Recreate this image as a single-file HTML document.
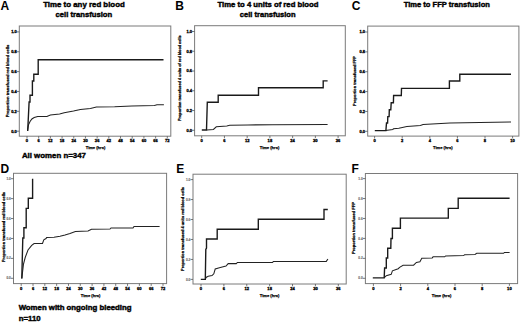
<!DOCTYPE html>
<html><head><meta charset="utf-8"><style>
html,body{margin:0;padding:0;background:#fff;}
svg{display:block;font-family:"Liberation Sans", sans-serif;}
</style></head><body>
<svg width="520" height="322" viewBox="0 0 520 322">
<rect width="520" height="322" fill="#fff"/>
<rect x="19.3" y="26" width="151.5" height="110.2" fill="none" stroke="#7a7a7a" stroke-width="1"/>
<line x1="16.8" y1="131.2" x2="19.3" y2="131.2" stroke="#555" stroke-width="0.8"/>
<text x="16.7" y="132.6" font-size="4" text-anchor="end" fill="#000" stroke="#000" stroke-width="0.3" font-weight="bold">0.0</text>
<line x1="16.8" y1="111.34" x2="19.3" y2="111.34" stroke="#555" stroke-width="0.8"/>
<text x="16.7" y="112.74" font-size="4" text-anchor="end" fill="#000" stroke="#000" stroke-width="0.3" font-weight="bold">0.2</text>
<line x1="16.8" y1="91.48" x2="19.3" y2="91.48" stroke="#555" stroke-width="0.8"/>
<text x="16.7" y="92.88" font-size="4" text-anchor="end" fill="#000" stroke="#000" stroke-width="0.3" font-weight="bold">0.4</text>
<line x1="16.8" y1="71.62" x2="19.3" y2="71.62" stroke="#555" stroke-width="0.8"/>
<text x="16.7" y="73.02" font-size="4" text-anchor="end" fill="#000" stroke="#000" stroke-width="0.3" font-weight="bold">0.6</text>
<line x1="16.8" y1="51.76" x2="19.3" y2="51.76" stroke="#555" stroke-width="0.8"/>
<text x="16.7" y="53.16" font-size="4" text-anchor="end" fill="#000" stroke="#000" stroke-width="0.3" font-weight="bold">0.8</text>
<line x1="16.8" y1="31.9" x2="19.3" y2="31.9" stroke="#555" stroke-width="0.8"/>
<text x="16.7" y="33.3" font-size="4" text-anchor="end" fill="#000" stroke="#000" stroke-width="0.3" font-weight="bold">1.0</text>
<line x1="27" y1="136.2" x2="27" y2="138.5" stroke="#555" stroke-width="0.8"/>
<text x="27" y="142.45" font-size="4.1" text-anchor="middle" fill="#000" stroke="#000" stroke-width="0.3" font-weight="bold">0</text>
<line x1="38.69" y1="136.2" x2="38.69" y2="138.5" stroke="#555" stroke-width="0.8"/>
<text x="38.69" y="142.45" font-size="4.1" text-anchor="middle" fill="#000" stroke="#000" stroke-width="0.3" font-weight="bold">6</text>
<line x1="50.38" y1="136.2" x2="50.38" y2="138.5" stroke="#555" stroke-width="0.8"/>
<text x="50.38" y="142.45" font-size="4.1" text-anchor="middle" fill="#000" stroke="#000" stroke-width="0.3" font-weight="bold">12</text>
<line x1="62.08" y1="136.2" x2="62.08" y2="138.5" stroke="#555" stroke-width="0.8"/>
<text x="62.08" y="142.45" font-size="4.1" text-anchor="middle" fill="#000" stroke="#000" stroke-width="0.3" font-weight="bold">18</text>
<line x1="73.77" y1="136.2" x2="73.77" y2="138.5" stroke="#555" stroke-width="0.8"/>
<text x="73.77" y="142.45" font-size="4.1" text-anchor="middle" fill="#000" stroke="#000" stroke-width="0.3" font-weight="bold">24</text>
<line x1="85.46" y1="136.2" x2="85.46" y2="138.5" stroke="#555" stroke-width="0.8"/>
<text x="85.46" y="142.45" font-size="4.1" text-anchor="middle" fill="#000" stroke="#000" stroke-width="0.3" font-weight="bold">30</text>
<line x1="97.15" y1="136.2" x2="97.15" y2="138.5" stroke="#555" stroke-width="0.8"/>
<text x="97.15" y="142.45" font-size="4.1" text-anchor="middle" fill="#000" stroke="#000" stroke-width="0.3" font-weight="bold">36</text>
<line x1="108.84" y1="136.2" x2="108.84" y2="138.5" stroke="#555" stroke-width="0.8"/>
<text x="108.84" y="142.45" font-size="4.1" text-anchor="middle" fill="#000" stroke="#000" stroke-width="0.3" font-weight="bold">42</text>
<line x1="120.53" y1="136.2" x2="120.53" y2="138.5" stroke="#555" stroke-width="0.8"/>
<text x="120.53" y="142.45" font-size="4.1" text-anchor="middle" fill="#000" stroke="#000" stroke-width="0.3" font-weight="bold">48</text>
<line x1="132.23" y1="136.2" x2="132.23" y2="138.5" stroke="#555" stroke-width="0.8"/>
<text x="132.23" y="142.45" font-size="4.1" text-anchor="middle" fill="#000" stroke="#000" stroke-width="0.3" font-weight="bold">54</text>
<line x1="143.92" y1="136.2" x2="143.92" y2="138.5" stroke="#555" stroke-width="0.8"/>
<text x="143.92" y="142.45" font-size="4.1" text-anchor="middle" fill="#000" stroke="#000" stroke-width="0.3" font-weight="bold">60</text>
<line x1="155.61" y1="136.2" x2="155.61" y2="138.5" stroke="#555" stroke-width="0.8"/>
<text x="155.61" y="142.45" font-size="4.1" text-anchor="middle" fill="#000" stroke="#000" stroke-width="0.3" font-weight="bold">66</text>
<line x1="167.3" y1="136.2" x2="167.3" y2="138.5" stroke="#555" stroke-width="0.8"/>
<text x="167.3" y="142.45" font-size="4.1" text-anchor="middle" fill="#000" stroke="#000" stroke-width="0.3" font-weight="bold">72</text>
<text transform="translate(8.5,81) rotate(-90)" font-size="4" text-anchor="middle" fill="#000" stroke="#000" stroke-width="0.25" font-weight="bold" textLength="72.5" lengthAdjust="spacingAndGlyphs">Proportion transfused red blood cells</text>
<text x="95.5" y="149.2" font-size="4.3" text-anchor="middle" fill="#000" stroke="#000" stroke-width="0.25" font-weight="bold" textLength="19.5" lengthAdjust="spacingAndGlyphs">Time (hrs)</text>
<text x="0.6" y="9.6" font-size="12" fill="#000" font-weight="bold">A</text>
<path d="M27.5,130.6 L28.5,124.8 L30.2,121.3 L31.9,119 L34.2,117.5 L37.7,116.5 L46.9,116.4 L50.4,115 L59.6,114.1 L64.2,112.7 L73.5,111 L80.4,109.5 L90.4,108.5 L96.4,107.1 L114.6,106.8 L131.9,106.1 L154.4,105.4 L157,104.7 L163.9,104.7" fill="none" stroke="#222" stroke-width="1.05"/>
<path d="M27.7,131 L29.1,102 L30,102 L30,95.3 L32.4,95.3 L32.4,81 L33.8,81 L33.8,74.3 L38.2,74.3 L38.2,59.8 L163.5,59.8" fill="none" stroke="#1a1a1a" stroke-width="1.38"/>
<rect x="194.6" y="25.7" width="150.7" height="110.1" fill="none" stroke="#7a7a7a" stroke-width="1"/>
<line x1="192.1" y1="130.3" x2="194.6" y2="130.3" stroke="#555" stroke-width="0.8"/>
<text x="192" y="131.7" font-size="4" text-anchor="end" fill="#000" stroke="#000" stroke-width="0.3" font-weight="bold">0.0</text>
<line x1="192.1" y1="110.54" x2="194.6" y2="110.54" stroke="#555" stroke-width="0.8"/>
<text x="192" y="111.94" font-size="4" text-anchor="end" fill="#000" stroke="#000" stroke-width="0.3" font-weight="bold">0.2</text>
<line x1="192.1" y1="90.78" x2="194.6" y2="90.78" stroke="#555" stroke-width="0.8"/>
<text x="192" y="92.18" font-size="4" text-anchor="end" fill="#000" stroke="#000" stroke-width="0.3" font-weight="bold">0.4</text>
<line x1="192.1" y1="71.02" x2="194.6" y2="71.02" stroke="#555" stroke-width="0.8"/>
<text x="192" y="72.42" font-size="4" text-anchor="end" fill="#000" stroke="#000" stroke-width="0.3" font-weight="bold">0.6</text>
<line x1="192.1" y1="51.26" x2="194.6" y2="51.26" stroke="#555" stroke-width="0.8"/>
<text x="192" y="52.66" font-size="4" text-anchor="end" fill="#000" stroke="#000" stroke-width="0.3" font-weight="bold">0.8</text>
<line x1="192.1" y1="31.5" x2="194.6" y2="31.5" stroke="#555" stroke-width="0.8"/>
<text x="192" y="32.9" font-size="4" text-anchor="end" fill="#000" stroke="#000" stroke-width="0.3" font-weight="bold">1.0</text>
<line x1="201.7" y1="135.8" x2="201.7" y2="138.1" stroke="#555" stroke-width="0.8"/>
<text x="201.7" y="142.05" font-size="4.1" text-anchor="middle" fill="#000" stroke="#000" stroke-width="0.3" font-weight="bold">0</text>
<line x1="224.43" y1="135.8" x2="224.43" y2="138.1" stroke="#555" stroke-width="0.8"/>
<text x="224.43" y="142.05" font-size="4.1" text-anchor="middle" fill="#000" stroke="#000" stroke-width="0.3" font-weight="bold">6</text>
<line x1="247.17" y1="135.8" x2="247.17" y2="138.1" stroke="#555" stroke-width="0.8"/>
<text x="247.17" y="142.05" font-size="4.1" text-anchor="middle" fill="#000" stroke="#000" stroke-width="0.3" font-weight="bold">12</text>
<line x1="269.9" y1="135.8" x2="269.9" y2="138.1" stroke="#555" stroke-width="0.8"/>
<text x="269.9" y="142.05" font-size="4.1" text-anchor="middle" fill="#000" stroke="#000" stroke-width="0.3" font-weight="bold">18</text>
<line x1="292.63" y1="135.8" x2="292.63" y2="138.1" stroke="#555" stroke-width="0.8"/>
<text x="292.63" y="142.05" font-size="4.1" text-anchor="middle" fill="#000" stroke="#000" stroke-width="0.3" font-weight="bold">24</text>
<line x1="315.37" y1="135.8" x2="315.37" y2="138.1" stroke="#555" stroke-width="0.8"/>
<text x="315.37" y="142.05" font-size="4.1" text-anchor="middle" fill="#000" stroke="#000" stroke-width="0.3" font-weight="bold">30</text>
<line x1="338.1" y1="135.8" x2="338.1" y2="138.1" stroke="#555" stroke-width="0.8"/>
<text x="338.1" y="142.05" font-size="4.1" text-anchor="middle" fill="#000" stroke="#000" stroke-width="0.3" font-weight="bold">36</text>
<text transform="translate(181.3,78.2) rotate(-90)" font-size="4" text-anchor="middle" fill="#000" stroke="#000" stroke-width="0.25" font-weight="bold" textLength="85.5" lengthAdjust="spacingAndGlyphs">Proportion transfused 4 units of red blood cells</text>
<text x="269.5" y="149.1" font-size="4.3" text-anchor="middle" fill="#000" stroke="#000" stroke-width="0.25" font-weight="bold" textLength="19.5" lengthAdjust="spacingAndGlyphs">Time (hrs)</text>
<text x="175.3" y="10.2" font-size="12" fill="#000" font-weight="bold">B</text>
<path d="M206.8,130 L213.4,129.4 L216.3,126.8 L226.8,125.9 L229.7,125.2 L248,124.9 L272.5,124.8 L327.6,124.4" fill="none" stroke="#222" stroke-width="1.05"/>
<path d="M201.8,130 L206.5,130 L207.3,102.3 L218.2,102.3 L218.2,95.2 L258.5,95.2 L258.5,87.7 L323.2,87.7 L323.2,80.9 L327.6,80.9" fill="none" stroke="#1a1a1a" stroke-width="1.38"/>
<rect x="367.7" y="26.1" width="151.2" height="110" fill="none" stroke="#7a7a7a" stroke-width="1"/>
<line x1="365.2" y1="131.3" x2="367.7" y2="131.3" stroke="#555" stroke-width="0.8"/>
<text x="365.1" y="132.7" font-size="4" text-anchor="end" fill="#000" stroke="#000" stroke-width="0.3" font-weight="bold">0.0</text>
<line x1="365.2" y1="111.44" x2="367.7" y2="111.44" stroke="#555" stroke-width="0.8"/>
<text x="365.1" y="112.84" font-size="4" text-anchor="end" fill="#000" stroke="#000" stroke-width="0.3" font-weight="bold">0.2</text>
<line x1="365.2" y1="91.58" x2="367.7" y2="91.58" stroke="#555" stroke-width="0.8"/>
<text x="365.1" y="92.98" font-size="4" text-anchor="end" fill="#000" stroke="#000" stroke-width="0.3" font-weight="bold">0.4</text>
<line x1="365.2" y1="71.72" x2="367.7" y2="71.72" stroke="#555" stroke-width="0.8"/>
<text x="365.1" y="73.12" font-size="4" text-anchor="end" fill="#000" stroke="#000" stroke-width="0.3" font-weight="bold">0.6</text>
<line x1="365.2" y1="51.86" x2="367.7" y2="51.86" stroke="#555" stroke-width="0.8"/>
<text x="365.1" y="53.26" font-size="4" text-anchor="end" fill="#000" stroke="#000" stroke-width="0.3" font-weight="bold">0.8</text>
<line x1="365.2" y1="32" x2="367.7" y2="32" stroke="#555" stroke-width="0.8"/>
<text x="365.1" y="33.4" font-size="4" text-anchor="end" fill="#000" stroke="#000" stroke-width="0.3" font-weight="bold">1.0</text>
<line x1="374.6" y1="136.1" x2="374.6" y2="138.4" stroke="#555" stroke-width="0.8"/>
<text x="374.6" y="142.35" font-size="4.1" text-anchor="middle" fill="#000" stroke="#000" stroke-width="0.3" font-weight="bold">0</text>
<line x1="402.2" y1="136.1" x2="402.2" y2="138.4" stroke="#555" stroke-width="0.8"/>
<text x="402.2" y="142.35" font-size="4.1" text-anchor="middle" fill="#000" stroke="#000" stroke-width="0.3" font-weight="bold">2</text>
<line x1="429.8" y1="136.1" x2="429.8" y2="138.4" stroke="#555" stroke-width="0.8"/>
<text x="429.8" y="142.35" font-size="4.1" text-anchor="middle" fill="#000" stroke="#000" stroke-width="0.3" font-weight="bold">4</text>
<line x1="457.4" y1="136.1" x2="457.4" y2="138.4" stroke="#555" stroke-width="0.8"/>
<text x="457.4" y="142.35" font-size="4.1" text-anchor="middle" fill="#000" stroke="#000" stroke-width="0.3" font-weight="bold">6</text>
<line x1="485" y1="136.1" x2="485" y2="138.4" stroke="#555" stroke-width="0.8"/>
<text x="485" y="142.35" font-size="4.1" text-anchor="middle" fill="#000" stroke="#000" stroke-width="0.3" font-weight="bold">8</text>
<line x1="512.6" y1="136.1" x2="512.6" y2="138.4" stroke="#555" stroke-width="0.8"/>
<text x="512.6" y="142.35" font-size="4.1" text-anchor="middle" fill="#000" stroke="#000" stroke-width="0.3" font-weight="bold">10</text>
<text transform="translate(356,81) rotate(-90)" font-size="4" text-anchor="middle" fill="#000" stroke="#000" stroke-width="0.25" font-weight="bold" textLength="50" lengthAdjust="spacingAndGlyphs">Proportion transfused FFP</text>
<text x="442.8" y="149.3" font-size="4.3" text-anchor="middle" fill="#000" stroke="#000" stroke-width="0.25" font-weight="bold" textLength="19.5" lengthAdjust="spacingAndGlyphs">Time (hrs)</text>
<text x="351.8" y="10" font-size="12" fill="#000" font-weight="bold">C</text>
<path d="M385.6,130.6 L392.8,129.4 L393.5,128.8 L398.8,128.2 L406.9,126.6 L420.4,125.5 L423.1,124.5 L450,123 L480,122.5 L511,121.9" fill="none" stroke="#222" stroke-width="1.05"/>
<path d="M374.8,130.6 L385.9,130.6 L386.5,123 L387.6,123 L387.8,116.6 L389.1,116.6 L389.3,109.7 L390.8,109.7 L391.2,102.8 L393.4,102.8 L393.6,95.5 L401.3,95.5 L401.5,88.4 L449.4,88.4 L449.4,81 L459.8,81 L459.8,74.2 L511,74.2" fill="none" stroke="#1a1a1a" stroke-width="1.38"/>
<rect x="13.5" y="173.3" width="153.1" height="110.3" fill="none" stroke="#7a7a7a" stroke-width="1"/>
<line x1="11" y1="278.3" x2="13.5" y2="278.3" stroke="#555" stroke-width="0.8"/>
<text x="10.9" y="279.4" font-size="3.2" text-anchor="end" fill="#777" stroke="#777" stroke-width="0.15" font-weight="bold">0.0</text>
<line x1="11" y1="258.38" x2="13.5" y2="258.38" stroke="#555" stroke-width="0.8"/>
<text x="10.9" y="259.48" font-size="3.2" text-anchor="end" fill="#777" stroke="#777" stroke-width="0.15" font-weight="bold">0.2</text>
<line x1="11" y1="238.46" x2="13.5" y2="238.46" stroke="#555" stroke-width="0.8"/>
<text x="10.9" y="239.56" font-size="3.2" text-anchor="end" fill="#777" stroke="#777" stroke-width="0.15" font-weight="bold">0.4</text>
<line x1="11" y1="218.54" x2="13.5" y2="218.54" stroke="#555" stroke-width="0.8"/>
<text x="10.9" y="219.64" font-size="3.2" text-anchor="end" fill="#777" stroke="#777" stroke-width="0.15" font-weight="bold">0.6</text>
<line x1="11" y1="198.62" x2="13.5" y2="198.62" stroke="#555" stroke-width="0.8"/>
<text x="10.9" y="199.72" font-size="3.2" text-anchor="end" fill="#777" stroke="#777" stroke-width="0.15" font-weight="bold">0.8</text>
<line x1="11" y1="178.7" x2="13.5" y2="178.7" stroke="#555" stroke-width="0.8"/>
<text x="10.9" y="179.8" font-size="3.2" text-anchor="end" fill="#777" stroke="#777" stroke-width="0.15" font-weight="bold">1.0</text>
<line x1="21.2" y1="283.6" x2="21.2" y2="285.9" stroke="#555" stroke-width="0.8"/>
<text x="21.2" y="289.85" font-size="4.1" text-anchor="middle" fill="#000" stroke="#000" stroke-width="0.3" font-weight="bold">0</text>
<line x1="33.02" y1="283.6" x2="33.02" y2="285.9" stroke="#555" stroke-width="0.8"/>
<text x="33.02" y="289.85" font-size="4.1" text-anchor="middle" fill="#000" stroke="#000" stroke-width="0.3" font-weight="bold">6</text>
<line x1="44.83" y1="283.6" x2="44.83" y2="285.9" stroke="#555" stroke-width="0.8"/>
<text x="44.83" y="289.85" font-size="4.1" text-anchor="middle" fill="#000" stroke="#000" stroke-width="0.3" font-weight="bold">12</text>
<line x1="56.65" y1="283.6" x2="56.65" y2="285.9" stroke="#555" stroke-width="0.8"/>
<text x="56.65" y="289.85" font-size="4.1" text-anchor="middle" fill="#000" stroke="#000" stroke-width="0.3" font-weight="bold">18</text>
<line x1="68.47" y1="283.6" x2="68.47" y2="285.9" stroke="#555" stroke-width="0.8"/>
<text x="68.47" y="289.85" font-size="4.1" text-anchor="middle" fill="#000" stroke="#000" stroke-width="0.3" font-weight="bold">24</text>
<line x1="80.28" y1="283.6" x2="80.28" y2="285.9" stroke="#555" stroke-width="0.8"/>
<text x="80.28" y="289.85" font-size="4.1" text-anchor="middle" fill="#000" stroke="#000" stroke-width="0.3" font-weight="bold">30</text>
<line x1="92.1" y1="283.6" x2="92.1" y2="285.9" stroke="#555" stroke-width="0.8"/>
<text x="92.1" y="289.85" font-size="4.1" text-anchor="middle" fill="#000" stroke="#000" stroke-width="0.3" font-weight="bold">36</text>
<line x1="103.92" y1="283.6" x2="103.92" y2="285.9" stroke="#555" stroke-width="0.8"/>
<text x="103.92" y="289.85" font-size="4.1" text-anchor="middle" fill="#000" stroke="#000" stroke-width="0.3" font-weight="bold">42</text>
<line x1="115.73" y1="283.6" x2="115.73" y2="285.9" stroke="#555" stroke-width="0.8"/>
<text x="115.73" y="289.85" font-size="4.1" text-anchor="middle" fill="#000" stroke="#000" stroke-width="0.3" font-weight="bold">48</text>
<line x1="127.55" y1="283.6" x2="127.55" y2="285.9" stroke="#555" stroke-width="0.8"/>
<text x="127.55" y="289.85" font-size="4.1" text-anchor="middle" fill="#000" stroke="#000" stroke-width="0.3" font-weight="bold">54</text>
<line x1="139.37" y1="283.6" x2="139.37" y2="285.9" stroke="#555" stroke-width="0.8"/>
<text x="139.37" y="289.85" font-size="4.1" text-anchor="middle" fill="#000" stroke="#000" stroke-width="0.3" font-weight="bold">60</text>
<line x1="151.18" y1="283.6" x2="151.18" y2="285.9" stroke="#555" stroke-width="0.8"/>
<text x="151.18" y="289.85" font-size="4.1" text-anchor="middle" fill="#000" stroke="#000" stroke-width="0.3" font-weight="bold">66</text>
<line x1="163" y1="283.6" x2="163" y2="285.9" stroke="#555" stroke-width="0.8"/>
<text x="163" y="289.85" font-size="4.1" text-anchor="middle" fill="#000" stroke="#000" stroke-width="0.3" font-weight="bold">72</text>
<text transform="translate(4.7,227) rotate(-90)" font-size="4" text-anchor="middle" fill="#000" stroke="#000" stroke-width="0.25" font-weight="bold" textLength="70" lengthAdjust="spacingAndGlyphs">Proportion transfused red blood cells</text>
<text x="90.6" y="296.8" font-size="4.3" text-anchor="middle" fill="#000" stroke="#000" stroke-width="0.25" font-weight="bold" textLength="19.5" lengthAdjust="spacingAndGlyphs">Time (hrs)</text>
<text x="0.6" y="173.2" font-size="12" fill="#000" font-weight="bold">D</text>
<path d="M21.8,278.5 L23.5,264 L25.2,257.5 L28,250 L31.7,245.4 L34.1,243.5 L42.5,243.5 L43.8,239.8 L46,238.5 L46.6,237.6 L54,237.3 L60,236.2 L65,235 L70,233.4 L75.4,231.5 L88,231 L91.5,229.2 L110,229 L111,228 L133,228 L134,226.5 L159.6,226.5" fill="none" stroke="#222" stroke-width="1.05"/>
<path d="M21.8,278.5 L22.8,238 L23.9,238 L23.9,227.8 L26.2,227.8 L26.2,208.4 L28.3,208.4 L28.3,198.2 L32.6,198.2 L32.6,178.7" fill="none" stroke="#1a1a1a" stroke-width="1.38"/>
<rect x="193" y="174.2" width="153.2" height="109.8" fill="none" stroke="#7a7a7a" stroke-width="1"/>
<line x1="190.5" y1="279.4" x2="193" y2="279.4" stroke="#555" stroke-width="0.8"/>
<text x="190.4" y="280.5" font-size="3.2" text-anchor="end" fill="#777" stroke="#777" stroke-width="0.15" font-weight="bold">0.0</text>
<line x1="190.5" y1="259.44" x2="193" y2="259.44" stroke="#555" stroke-width="0.8"/>
<text x="190.4" y="260.54" font-size="3.2" text-anchor="end" fill="#777" stroke="#777" stroke-width="0.15" font-weight="bold">0.2</text>
<line x1="190.5" y1="239.48" x2="193" y2="239.48" stroke="#555" stroke-width="0.8"/>
<text x="190.4" y="240.58" font-size="3.2" text-anchor="end" fill="#777" stroke="#777" stroke-width="0.15" font-weight="bold">0.4</text>
<line x1="190.5" y1="219.52" x2="193" y2="219.52" stroke="#555" stroke-width="0.8"/>
<text x="190.4" y="220.62" font-size="3.2" text-anchor="end" fill="#777" stroke="#777" stroke-width="0.15" font-weight="bold">0.6</text>
<line x1="190.5" y1="199.56" x2="193" y2="199.56" stroke="#555" stroke-width="0.8"/>
<text x="190.4" y="200.66" font-size="3.2" text-anchor="end" fill="#777" stroke="#777" stroke-width="0.15" font-weight="bold">0.8</text>
<line x1="190.5" y1="179.6" x2="193" y2="179.6" stroke="#555" stroke-width="0.8"/>
<text x="190.4" y="180.7" font-size="3.2" text-anchor="end" fill="#777" stroke="#777" stroke-width="0.15" font-weight="bold">1.0</text>
<line x1="201" y1="284" x2="201" y2="286.3" stroke="#555" stroke-width="0.8"/>
<text x="201" y="290.25" font-size="4.1" text-anchor="middle" fill="#000" stroke="#000" stroke-width="0.3" font-weight="bold">0</text>
<line x1="223.88" y1="284" x2="223.88" y2="286.3" stroke="#555" stroke-width="0.8"/>
<text x="223.88" y="290.25" font-size="4.1" text-anchor="middle" fill="#000" stroke="#000" stroke-width="0.3" font-weight="bold">6</text>
<line x1="246.77" y1="284" x2="246.77" y2="286.3" stroke="#555" stroke-width="0.8"/>
<text x="246.77" y="290.25" font-size="4.1" text-anchor="middle" fill="#000" stroke="#000" stroke-width="0.3" font-weight="bold">12</text>
<line x1="269.65" y1="284" x2="269.65" y2="286.3" stroke="#555" stroke-width="0.8"/>
<text x="269.65" y="290.25" font-size="4.1" text-anchor="middle" fill="#000" stroke="#000" stroke-width="0.3" font-weight="bold">18</text>
<line x1="292.53" y1="284" x2="292.53" y2="286.3" stroke="#555" stroke-width="0.8"/>
<text x="292.53" y="290.25" font-size="4.1" text-anchor="middle" fill="#000" stroke="#000" stroke-width="0.3" font-weight="bold">24</text>
<line x1="315.42" y1="284" x2="315.42" y2="286.3" stroke="#555" stroke-width="0.8"/>
<text x="315.42" y="290.25" font-size="4.1" text-anchor="middle" fill="#000" stroke="#000" stroke-width="0.3" font-weight="bold">30</text>
<line x1="338.3" y1="284" x2="338.3" y2="286.3" stroke="#555" stroke-width="0.8"/>
<text x="338.3" y="290.25" font-size="4.1" text-anchor="middle" fill="#000" stroke="#000" stroke-width="0.3" font-weight="bold">36</text>
<text transform="translate(183.7,229) rotate(-90)" font-size="4" text-anchor="middle" fill="#000" stroke="#000" stroke-width="0.25" font-weight="bold" textLength="84" lengthAdjust="spacingAndGlyphs">Proportion transfused 4 units red blood cells</text>
<text x="269.6" y="296.8" font-size="4.3" text-anchor="middle" fill="#000" stroke="#000" stroke-width="0.25" font-weight="bold" textLength="19.5" lengthAdjust="spacingAndGlyphs">Time (hrs)</text>
<text x="176.2" y="173.4" font-size="12" fill="#000" font-weight="bold">E</text>
<path d="M205.1,279.4 L206.4,277.2 L208.2,276.2 L212,275.6 L213.8,273.8 L215.2,269 L218.5,267.9 L222.2,266.9 L226,266 L228.2,263.6 L236.3,263.6 L237.4,262.5 L245,262.5 L272.5,262.4 L273.5,261.4 L326.3,261.4 L327.9,259" fill="none" stroke="#222" stroke-width="1.05"/>
<path d="M200.8,279.4 L205.3,279.4 L205.8,249.5 L206.5,248 L206.5,239 L217.2,239 L217.2,229.3 L258.3,229.3 L258.3,219.3 L324,219.3 L324,209.5 L327.8,209.5" fill="none" stroke="#1a1a1a" stroke-width="1.38"/>
<rect x="365.4" y="173.5" width="152.2" height="110.1" fill="none" stroke="#7a7a7a" stroke-width="1"/>
<line x1="362.9" y1="278.3" x2="365.4" y2="278.3" stroke="#555" stroke-width="0.8"/>
<text x="362.8" y="279.4" font-size="3.2" text-anchor="end" fill="#777" stroke="#777" stroke-width="0.15" font-weight="bold">0.0</text>
<line x1="362.9" y1="258.36" x2="365.4" y2="258.36" stroke="#555" stroke-width="0.8"/>
<text x="362.8" y="259.46" font-size="3.2" text-anchor="end" fill="#777" stroke="#777" stroke-width="0.15" font-weight="bold">0.2</text>
<line x1="362.9" y1="238.42" x2="365.4" y2="238.42" stroke="#555" stroke-width="0.8"/>
<text x="362.8" y="239.52" font-size="3.2" text-anchor="end" fill="#777" stroke="#777" stroke-width="0.15" font-weight="bold">0.4</text>
<line x1="362.9" y1="218.48" x2="365.4" y2="218.48" stroke="#555" stroke-width="0.8"/>
<text x="362.8" y="219.58" font-size="3.2" text-anchor="end" fill="#777" stroke="#777" stroke-width="0.15" font-weight="bold">0.6</text>
<line x1="362.9" y1="198.54" x2="365.4" y2="198.54" stroke="#555" stroke-width="0.8"/>
<text x="362.8" y="199.64" font-size="3.2" text-anchor="end" fill="#777" stroke="#777" stroke-width="0.15" font-weight="bold">0.8</text>
<line x1="362.9" y1="178.6" x2="365.4" y2="178.6" stroke="#555" stroke-width="0.8"/>
<text x="362.8" y="179.7" font-size="3.2" text-anchor="end" fill="#777" stroke="#777" stroke-width="0.15" font-weight="bold">1.0</text>
<line x1="373.4" y1="283.6" x2="373.4" y2="285.9" stroke="#555" stroke-width="0.8"/>
<text x="373.4" y="289.85" font-size="4.1" text-anchor="middle" fill="#000" stroke="#000" stroke-width="0.3" font-weight="bold">0</text>
<line x1="400.6" y1="283.6" x2="400.6" y2="285.9" stroke="#555" stroke-width="0.8"/>
<text x="400.6" y="289.85" font-size="4.1" text-anchor="middle" fill="#000" stroke="#000" stroke-width="0.3" font-weight="bold">2</text>
<line x1="427.8" y1="283.6" x2="427.8" y2="285.9" stroke="#555" stroke-width="0.8"/>
<text x="427.8" y="289.85" font-size="4.1" text-anchor="middle" fill="#000" stroke="#000" stroke-width="0.3" font-weight="bold">4</text>
<line x1="455" y1="283.6" x2="455" y2="285.9" stroke="#555" stroke-width="0.8"/>
<text x="455" y="289.85" font-size="4.1" text-anchor="middle" fill="#000" stroke="#000" stroke-width="0.3" font-weight="bold">6</text>
<line x1="482.2" y1="283.6" x2="482.2" y2="285.9" stroke="#555" stroke-width="0.8"/>
<text x="482.2" y="289.85" font-size="4.1" text-anchor="middle" fill="#000" stroke="#000" stroke-width="0.3" font-weight="bold">8</text>
<line x1="509.4" y1="283.6" x2="509.4" y2="285.9" stroke="#555" stroke-width="0.8"/>
<text x="509.4" y="289.85" font-size="4.1" text-anchor="middle" fill="#000" stroke="#000" stroke-width="0.3" font-weight="bold">10</text>
<text transform="translate(354.6,228) rotate(-90)" font-size="4" text-anchor="middle" fill="#000" stroke="#000" stroke-width="0.25" font-weight="bold" textLength="52" lengthAdjust="spacingAndGlyphs">Proportion transfused FFP</text>
<text x="441.5" y="297" font-size="4.3" text-anchor="middle" fill="#000" stroke="#000" stroke-width="0.25" font-weight="bold" textLength="19.5" lengthAdjust="spacingAndGlyphs">Time (hrs)</text>
<text x="351.5" y="173" font-size="12" fill="#000" font-weight="bold">F</text>
<path d="M384.3,277.7 L386.3,275.7 L391.2,274.3 L392.4,270.8 L395.4,269.7 L398.2,268.7 L399.6,267.3 L403.1,265.2 L413.6,265.2 L416.4,262.4 L419.9,261.7 L421.8,258.2 L432.2,257.9 L433.1,256.8 L444.7,256.8 L445.6,255.9 L463.7,255.6 L464.6,254.7 L475,254.4 L476.7,253.3 L503.6,253.3 L504.4,252.5 L509.6,252.5" fill="none" stroke="#222" stroke-width="1.05"/>
<path d="M372.8,277.9 L384.2,277.9 L384.6,268 L386.3,268 L386.3,258 L387.7,258 L387.7,248.2 L390.8,248.2 L391,238.5 L392.4,238.5 L392.4,228.3 L400.4,228.3 L400.4,218.1 L448.3,218.1 L448.3,208.4 L458.2,208.4 L458.2,198.2 L509.6,198.2" fill="none" stroke="#1a1a1a" stroke-width="1.38"/>
<text x="43.2" y="7.2" font-size="7.9" font-weight="bold" fill="#000" stroke="#000" stroke-width="0.42" text-anchor="start" textLength="81.6" lengthAdjust="spacingAndGlyphs">Time to any red blood</text>
<text x="55.6" y="17.4" font-size="7.9" font-weight="bold" fill="#000" stroke="#000" stroke-width="0.42" text-anchor="start" textLength="56.6" lengthAdjust="spacingAndGlyphs">cell transfusion</text>
<text x="217.5" y="7.2" font-size="7.9" font-weight="bold" fill="#000" stroke="#000" stroke-width="0.42" text-anchor="start" textLength="101" lengthAdjust="spacingAndGlyphs">Time to 4 units of red blood</text>
<text x="239.8" y="17.4" font-size="7.9" font-weight="bold" fill="#000" stroke="#000" stroke-width="0.42" text-anchor="start" textLength="55.8" lengthAdjust="spacingAndGlyphs">cell transfusion</text>
<text x="403.7" y="7.2" font-size="7.9" font-weight="bold" fill="#000" stroke="#000" stroke-width="0.42" text-anchor="start" textLength="86.2" lengthAdjust="spacingAndGlyphs">Time to FFP transfusion</text>
<text x="21.9" y="157.6" font-size="8.0" font-weight="bold" fill="#000" stroke="#000" stroke-width="0.42" text-anchor="start" textLength="64" lengthAdjust="spacingAndGlyphs">All women n=347</text>
<text x="18.65" y="310.3" font-size="7.4" font-weight="bold" fill="#000" stroke="#000" stroke-width="0.42" text-anchor="start" textLength="112.9" lengthAdjust="spacingAndGlyphs">Women with ongoing bleeding</text>
<text x="18.65" y="320.6" font-size="7.9" font-weight="bold" fill="#000" stroke="#000" stroke-width="0.42" text-anchor="start" textLength="22" lengthAdjust="spacingAndGlyphs">n=110</text>
</svg>
</body></html>
